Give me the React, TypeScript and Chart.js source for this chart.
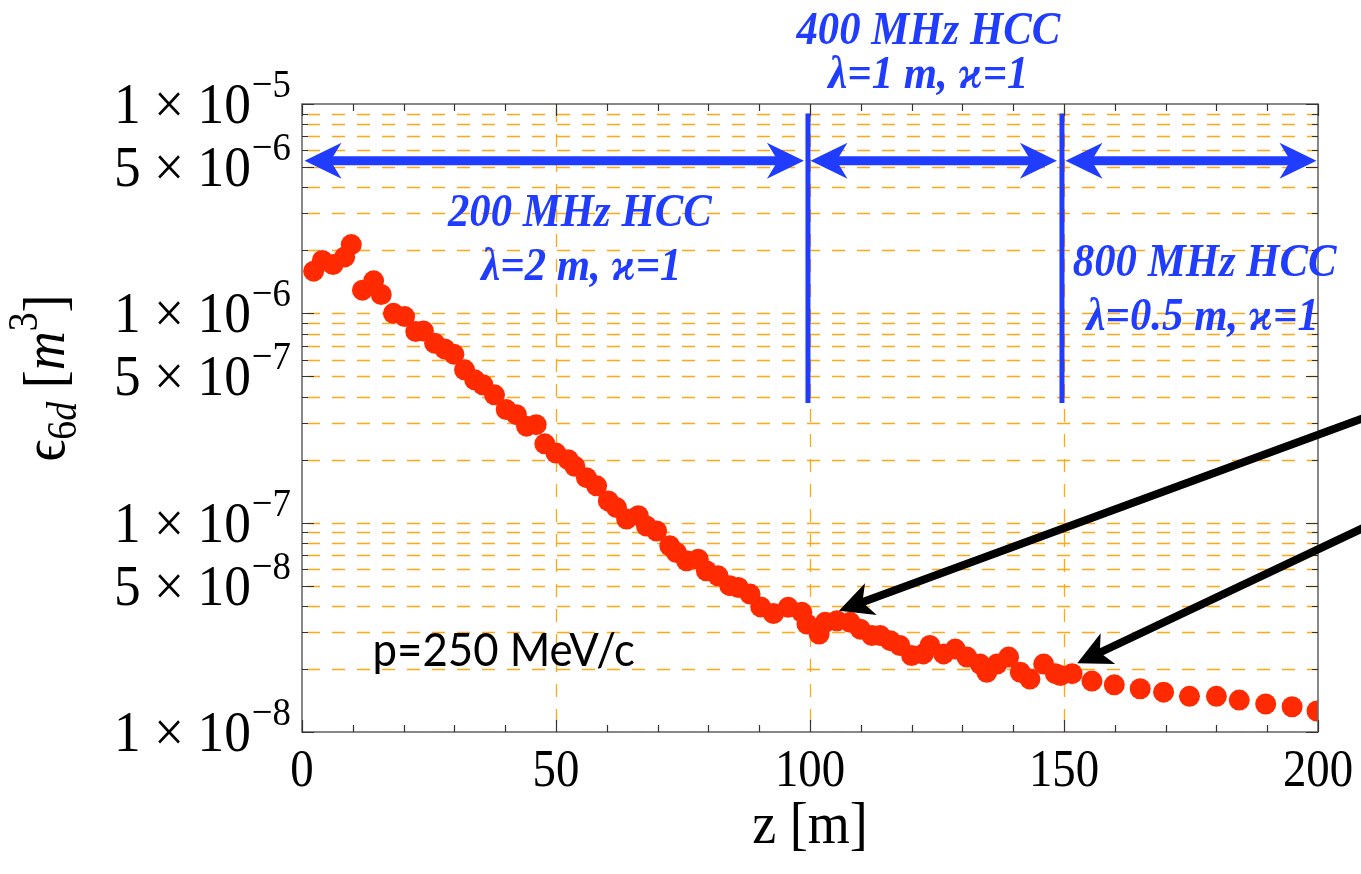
import { useEffect, useRef } from 'react';
import { Chart, registerables } from 'chart.js';

Chart.register(...registerables);

// Position along the channel z [m]
const zPositions = [
  2.3, 4.0, 6.1, 8.4, 9.7, 11.9, 14.1, 15.6, 18.0, 20.2,
  22.4, 23.9, 26.1, 28.1, 29.9, 32.0, 34.0, 35.6, 37.9, 40.2,
  42.2, 44.2, 46.1, 47.8, 50.0, 52.4, 53.7, 56.0, 58.0, 60.3,
  61.9, 63.9, 66.2, 67.8, 69.8, 72.4, 73.7, 75.7, 78.0, 79.6,
  81.9, 84.2, 85.9, 88.2, 90.3, 92.8, 95.7, 98.4, 99.4, 101.8,
  103.0, 105.3, 107.9, 109.9, 112.2, 113.8, 115.8, 117.7, 120.0, 122.3,
  123.6, 126.3, 128.6, 130.9, 133.5, 134.8, 136.8, 139.1, 141.4, 143.3,
  146.0, 148.3, 149.3, 151.6, 155.5, 159.9, 165.0, 169.6, 174.7, 180.0,
  184.5, 189.7, 194.9, 199.8,
];

// 6D emittance [m^3]
const emittance = [
  1.59e-6, 1.79e-6, 1.71e-6, 1.86e-6, 2.13e-6, 1.29e-6, 1.43e-6, 1.23e-6, 1.0e-6, 9.65e-7,
  8.18e-7, 8.24e-7, 7.2e-7, 6.76e-7, 6.38e-7, 5.37e-7, 4.81e-7, 4.56e-7, 4.08e-7, 3.47e-7,
  3.28e-7, 2.89e-7, 2.94e-7, 2.38e-7, 2.15e-7, 2.0e-7, 1.86e-7, 1.64e-7, 1.5e-7, 1.27e-7,
  1.18e-7, 1.04e-7, 1.08e-7, 9.64e-8, 9.12e-8, 7.75e-8, 7.2e-8, 6.57e-8, 6.69e-8, 5.89e-8,
  5.57e-8, 5.0e-8, 4.9e-8, 4.56e-8, 3.96e-8, 3.68e-8, 3.94e-8, 3.73e-8, 3.28e-8, 2.94e-8,
  3.34e-8, 3.4e-8, 3.34e-8, 3.1e-8, 2.89e-8, 2.89e-8, 2.73e-8, 2.59e-8, 2.32e-8, 2.36e-8,
  2.59e-8, 2.36e-8, 2.49e-8, 2.28e-8, 2.11e-8, 1.93e-8, 2.11e-8, 2.28e-8, 1.93e-8, 1.79e-8,
  2.11e-8, 1.9e-8, 1.86e-8, 1.9e-8, 1.75e-8, 1.68e-8, 1.61e-8, 1.55e-8, 1.48e-8, 1.48e-8,
  1.42e-8, 1.36e-8, 1.32e-8, 1.26e-8,
];

const xTickValues = [0, 50, 100, 150, 200];
const xTickLabels = ['0', '50', '100', '150', '200'];
const yTickValues = [1e-5, 5e-6, 1e-6, 5e-7, 1e-7, 5e-8, 1e-8];
const yTickMantissas = ['1', '5', '1', '5', '1', '5', '1'];
const yTickExponents = ['\u22125', '\u22126', '\u22126', '\u22127', '\u22127', '\u22128', '\u22128'];

// Cooling sections (z boundaries) and their labels
const sectionStarts = [0.5, 100.1, 150.3];
const sectionEnds = [98.8, 148.6, 199.7];
const sectionDividers = [99.6, 149.6];
const sectionTitles = ['200 MHz HCC', '400 MHz HCC', '800 MHz HCC'];
const sectionParams = ['\u03bb=2 m, \u03f0=1', '\u03bb=1 m, \u03f0=1', '\u03bb=0.5 m, \u03f0=1'];
const momentumLabel = 'p=250 MeV/c';

const SERIF = '"Liberation Serif", "Times New Roman", serif';
const SX = 0.9;
const BLUE = '#1f3cff';

type Ctx = CanvasRenderingContext2D;

function widthOf(ctx: Ctx, s: string, font: string, sx = SX) {
  ctx.font = font;
  return ctx.measureText(s).width * sx;
}

function put(ctx: Ctx, s: string, x: number, y: number, font: string, color = '#000', sx = SX, baseline: CanvasTextBaseline = 'alphabetic') {
  ctx.save();
  ctx.translate(x, y);
  ctx.scale(sx, 1);
  ctx.font = font;
  ctx.fillStyle = color;
  ctx.textAlign = 'left';
  ctx.textBaseline = baseline;
  ctx.fillText(s, 0, 0);
  ctx.restore();
}

function putCentered(ctx: Ctx, s: string, cx: number, cy: number, font: string, color: string, sx = SX) {
  const w = widthOf(ctx, s, font, sx);
  put(ctx, s, cx - w / 2, cy, font, color, sx, 'middle');
}

function arrowHead(ctx: Ctx, tx: number, ty: number, fx: number, fy: number, len: number, half: number, notch: number) {
  const dx = tx - fx;
  const dy = ty - fy;
  const d = Math.hypot(dx, dy);
  const ux = dx / d;
  const uy = dy / d;
  const px = -uy;
  const py = ux;
  ctx.beginPath();
  ctx.moveTo(tx, ty);
  ctx.lineTo(tx - ux * len + px * half, ty - uy * len + py * half);
  ctx.lineTo(tx - ux * (len - notch), ty - uy * (len - notch));
  ctx.lineTo(tx - ux * len - px * half, ty - uy * len - py * half);
  ctx.closePath();
  ctx.fill();
}

function arrow(ctx: Ctx, x1: number, y1: number, x2: number, y2: number, color: string, width: number, both: boolean, len = 34, half = 17, notch = 9) {
  const d = Math.hypot(x2 - x1, y2 - y1);
  const ux = (x2 - x1) / d;
  const uy = (y2 - y1) / d;
  const inset = len - notch - 1;
  ctx.save();
  ctx.strokeStyle = color;
  ctx.fillStyle = color;
  ctx.lineWidth = width;
  ctx.lineCap = 'butt';
  ctx.beginPath();
  ctx.moveTo(both ? x1 + ux * inset : x1, both ? y1 + uy * inset : y1);
  ctx.lineTo(x2 - ux * inset, y2 - uy * inset);
  ctx.stroke();
  arrowHead(ctx, x2, y2, x1, y1, len, half, notch);
  if (both) arrowHead(ctx, x1, y1, x2, y2, len, half, notch);
  ctx.restore();
}

const framePlugin = {
  id: 'frameAndNotes',
  beforeDatasetsDraw(chart: any) {
    const { ctx, chartArea: ca, scales } = chart;
    const xs = scales.x;
    const ys = scales.y;
    ctx.save();
    ctx.beginPath();
    ctx.rect(ca.left, ca.top, ca.right - ca.left, ca.bottom - ca.top);
    ctx.clip();
    ctx.strokeStyle = 'rgba(255,160,0,0.9)';
    ctx.lineWidth = 1.3;
    ctx.setLineDash([13, 12]);
    for (let n = -8; n <= -6; n++) {
      for (let k = 1; k <= 9; k++) {
        const y = Math.round(ys.getPixelForValue(k * Math.pow(10, n))) + 0.5;
        ctx.beginPath();
        ctx.moveTo(ca.left + 5, y);
        ctx.lineTo(ca.right, y);
        ctx.stroke();
      }
    }
    for (const v of [50, 100, 150]) {
      const x = Math.round(xs.getPixelForValue(v)) + 0.5;
      ctx.beginPath();
      ctx.moveTo(x, ca.top + 5);
      ctx.lineTo(x, ca.bottom);
      ctx.stroke();
    }
    ctx.restore();
  },
  afterDatasetsDraw(chart: any) {
    const { ctx, chartArea: ca, scales } = chart;
    const xs = scales.x;
    const ys = scales.y;
    ctx.save();
    ctx.setLineDash([]);

    // frame
    ctx.strokeStyle = '#6b6b6b';
    ctx.lineWidth = 1.6;
    ctx.strokeRect(ca.left, ca.top, ca.right - ca.left, ca.bottom - ca.top);

    // ticks
    ctx.strokeStyle = '#333';
    ctx.lineWidth = 1.2;
    for (let n = -8; n <= -5; n++) {
      for (let k = 1; k <= 9; k++) {
        const v = k * Math.pow(10, n);
        if (v > 1.0001e-5) break;
        const y = Math.round(ys.getPixelForValue(v)) + 0.5;
        const len = k === 1 || k === 5 ? 12 : 6;
        ctx.beginPath();
        ctx.moveTo(ca.left, y);
        ctx.lineTo(ca.left + len, y);
        ctx.moveTo(ca.right, y);
        ctx.lineTo(ca.right - len, y);
        ctx.stroke();
      }
    }
    for (let v = 0; v <= 200; v += 10) {
      const x = Math.round(xs.getPixelForValue(v)) + 0.5;
      const len = v % 50 === 0 ? 12 : 7;
      ctx.beginPath();
      ctx.moveTo(x, ca.bottom);
      ctx.lineTo(x, ca.bottom - len);
      ctx.moveTo(x, ca.top);
      ctx.lineTo(x, ca.top + len);
      ctx.stroke();
    }

    // x tick labels
    const xTickFont = `52px ${SERIF}`;
    xTickValues.forEach((v, i) => {
      const x = xs.getPixelForValue(v);
      const w = widthOf(ctx, xTickLabels[i], xTickFont);
      put(ctx, xTickLabels[i], x - w / 2, ca.bottom + 54, xTickFont);
    });

    // y tick labels: mantissa x 10^exponent
    const yTickFont = `58px ${SERIF}`;
    const supFont = `40px ${SERIF}`;
    yTickValues.forEach((v, i) => {
      const y = ys.getPixelForValue(v);
      const base = `${yTickMantissas[i]} \u00d7 10`;
      const wb = widthOf(ctx, base, yTickFont, 0.92);
      const ws = widthOf(ctx, yTickExponents[i], supFont, 0.92);
      const x0 = ca.left - 12 - wb - ws;
      put(ctx, base, x0, y + 19, yTickFont, '#000', 0.92);
      put(ctx, yTickExponents[i], x0 + wb + 1, y - 7, supFont, '#000', 0.92);
    });

    // x axis title
    const xt = 'z [m]';
    const xtFont = `60px ${SERIF}`;
    const xtw = widthOf(ctx, xt, xtFont);
    put(ctx, xt, (ca.left + ca.right) / 2 - xtw / 2, 843, xtFont);

    // y axis title: epsilon_6d [m^3]
    const big = `60px ${SERIF}`;
    const small = `42px ${SERIF}`;
    const smallIt = `italic 42px ${SERIF}`;
    const bigIt = `italic 60px ${SERIF}`;
    const parts: [string, string, number][] = [
      ['\u03f5', big, 0],
      ['6', small, 12],
      ['d', smallIt, 12],
      [' [', big, 0],
      ['m', bigIt, 0],
      ['3', small, -27],
      [']', big, 0],
    ];
    const total = parts.reduce((s, p) => s + widthOf(ctx, p[0], p[1]), 0);
    ctx.save();
    ctx.translate(64, 378);
    ctx.rotate(-Math.PI / 2);
    let cx = -total / 2;
    for (const [s, f, dy] of parts) {
      put(ctx, s, cx, dy, f);
      cx += widthOf(ctx, s, f);
    }
    ctx.restore();

    // cooling sections: arrows and dividers
    const yArrow = ys.getPixelForValue(5.35e-6);
    sectionStarts.forEach((z0, i) => {
      arrow(ctx, xs.getPixelForValue(z0), yArrow, xs.getPixelForValue(sectionEnds[i]), yArrow, BLUE, 9, true, 37, 18, 11);
    });
    ctx.strokeStyle = BLUE;
    ctx.lineWidth = 5;
    sectionDividers.forEach((z) => {
      const x = xs.getPixelForValue(z);
      ctx.beginPath();
      ctx.moveTo(x, ys.getPixelForValue(9e-6));
      ctx.lineTo(x, ys.getPixelForValue(3.73e-7));
      ctx.stroke();
    });

    const titleFont = `italic bold 46px ${SERIF}`;
    const labelAnchors: [number, number, number, number][] = [
      [54.7, 2.97e-6, 55.0, 1.65e-6],
      [123.3, 2.2e-5, 123.3, 1.36e-5],
      [177.7, 1.71e-6, 177.3, 9.53e-7],
    ];
    labelAnchors.forEach(([z1, v1, z2, v2], i) => {
      putCentered(ctx, sectionTitles[i], xs.getPixelForValue(z1), ys.getPixelForValue(v1), titleFont, BLUE, 0.93);
      putCentered(ctx, sectionParams[i], xs.getPixelForValue(z2), ys.getPixelForValue(v2), titleFont, BLUE, 0.93);
    });

    // pointers to the section transitions
    arrow(ctx, xs.getPixelForValue(209), ys.getPixelForValue(3.16e-7), xs.getPixelForValue(105.7), ys.getPixelForValue(3.79e-8), '#000', 8, false);
    arrow(ctx, xs.getPixelForValue(209), ys.getPixelForValue(9.46e-8), xs.getPixelForValue(152.6), ys.getPixelForValue(2.13e-8), '#000', 8, false);

    // beam momentum
    const pFont = `46px Lato, "Open Sans", sans-serif`;
    put(ctx, momentumLabel, xs.getPixelForValue(13.9), ys.getPixelForValue(2.42e-8), pFont, '#000', 0.95, 'middle');

    ctx.restore();
  },
};

export default function App() {
  const canvasRef = useRef<HTMLCanvasElement | null>(null);

  useEffect(() => {
    const canvas = canvasRef.current;
    if (!canvas) return;
    const chart = new Chart(canvas, {
      type: 'scatter',
      data: {
        datasets: [
          {
            data: zPositions.map((z, i) => ({ x: z, y: emittance[i] })),
            backgroundColor: '#ff2a00',
            borderWidth: 0,
            pointRadius: 10.5,
            pointHoverRadius: 10.5,
            clip: 0,
          },
        ],
      },
      options: {
        responsive: false,
        animation: false,
        events: [],
        layout: { padding: { left: 302, right: 43, top: 104, bottom: 142 } },
        plugins: { legend: { display: false }, tooltip: { enabled: false } },
        scales: {
          x: { type: 'linear', min: 0, max: 200, display: false },
          y: { type: 'logarithmic', min: 1e-8, max: 1e-5, display: false },
        },
      },
      plugins: [framePlugin],
    } as any);
    return () => chart.destroy();
  }, []);

  return (
    <div style={{ position: 'fixed', left: 0, top: 0, width: 1361, height: 874, background: '#fff' }}>
      <canvas ref={canvasRef} width={1361} height={874} style={{ display: 'block' }} />
    </div>
  );
}
